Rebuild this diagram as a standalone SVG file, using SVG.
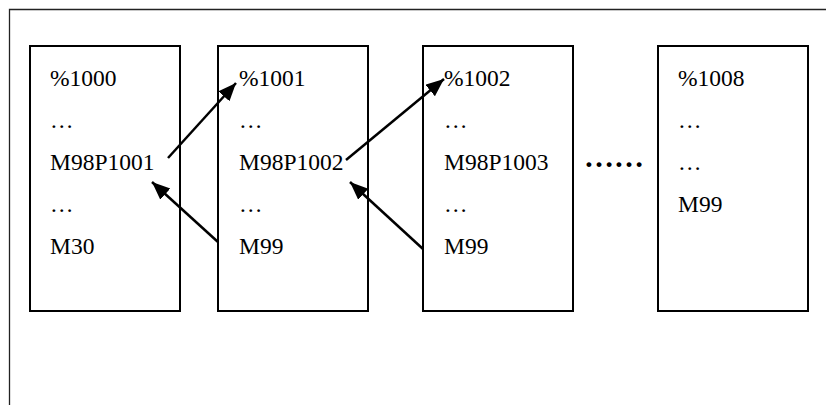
<svg xmlns="http://www.w3.org/2000/svg" width="826" height="405" viewBox="0 0 826 405">
<style>
.frame{fill:none;stroke:#222;stroke-width:1.3}
.box{fill:#fff;stroke:#000;stroke-width:2}
.t{font-family:"Liberation Serif","Times New Roman",serif;font-size:23.5px;fill:#000}
.c{fill:none;stroke:#000;stroke-width:2.5}
</style>
<defs>
<marker id="ah" markerUnits="userSpaceOnUse" markerWidth="20" markerHeight="16" refX="18" refY="7.5" orient="auto">
<path d="M0,0 L18,7.5 L0,15 z" fill="#000"/>
</marker>
</defs>
<path class="frame" d="M9.5,405 L9.5,9.5 L826,9.5"/>
<g id="prog1000">
<rect class="box" x="30" y="46" width="150" height="265"/>
<text class="t" x="50" y="86">%1000</text>
<text class="t" x="50" y="128">…</text>
<text class="t" x="50" y="170">M98P1001</text>
<text class="t" x="50" y="212">…</text>
<text class="t" x="50" y="254">M30</text>
</g>
<g id="prog1001">
<rect class="box" x="218" y="46" width="150" height="265"/>
<text class="t" x="239" y="86">%1001</text>
<text class="t" x="239" y="128">…</text>
<text class="t" x="239" y="170">M98P1002</text>
<text class="t" x="239" y="212">…</text>
<text class="t" x="239" y="254">M99</text>
</g>
<g id="prog1002">
<rect class="box" x="423" y="46" width="150" height="265"/>
<text class="t" x="444" y="86">%1002</text>
<text class="t" x="444" y="128">…</text>
<text class="t" x="444" y="170">M98P1003</text>
<text class="t" x="444" y="212">…</text>
<text class="t" x="444" y="254">M99</text>
</g>
<g id="dots">
<text class="t" x="584" y="167" font-weight="bold" style="font-size:30px">……</text>
</g>
<g id="prog1008">
<rect class="box" x="658" y="46" width="150" height="265"/>
<text class="t" x="678" y="86">%1008</text>
<text class="t" x="678" y="128">…</text>
<text class="t" x="678" y="170">…</text>
<text class="t" x="678" y="212">M99</text>
</g>
<g id="connectors">
<line class="c" x1="168" y1="158" x2="236" y2="83" marker-end="url(#ah)"/>
<line class="c" x1="218" y1="242" x2="152" y2="182" marker-end="url(#ah)"/>
<line class="c" x1="346" y1="160" x2="444" y2="79" marker-end="url(#ah)"/>
<line class="c" x1="423" y1="249" x2="350" y2="182" marker-end="url(#ah)"/>
</g>
</svg>
